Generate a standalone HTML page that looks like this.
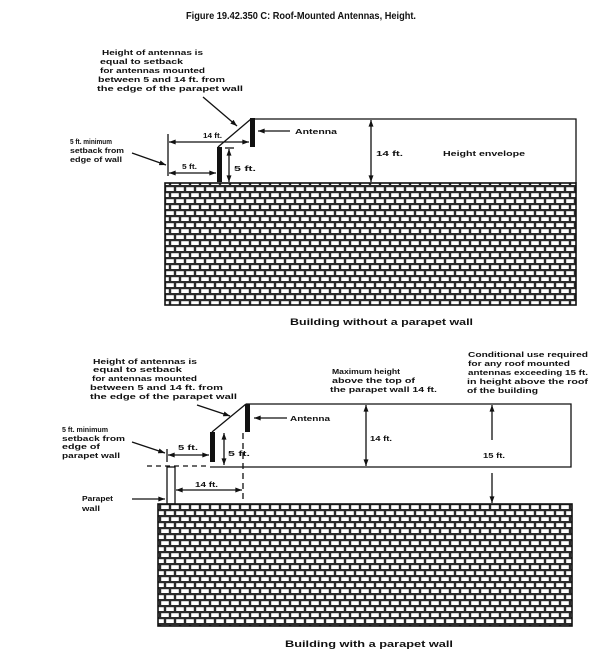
<!DOCTYPE html>
<html>
<head>
<meta charset="utf-8">
<style>
  html,body{margin:0;padding:0;background:#fff;}
  svg{display:block;}
  .t{font-family:"Liberation Sans",sans-serif;font-weight:bold;font-size:7.5px;fill:#111;}
  .c{font-family:"Liberation Sans",sans-serif;font-weight:bold;font-size:9.5px;fill:#111;}
  .ttl{font-family:"Liberation Sans",sans-serif;font-weight:bold;font-size:10.5px;fill:#111;}
  .ln{stroke:#111;stroke-width:1.3;fill:none;}
</style>
</head>
<body>
<svg width="600" height="672" viewBox="0 0 600 672" xmlns="http://www.w3.org/2000/svg">
  <defs>
    <pattern id="brick" patternUnits="userSpaceOnUse" width="10" height="12" x="0" y="0">
      <rect x="0" y="0" width="10" height="12" fill="#2a2a2a"/>
      <rect x="1.2" y="1.2" width="7.6" height="3.8" fill="#fff"/>
      <rect x="-3.8" y="7.2" width="7.6" height="3.8" fill="#fff"/>
      <rect x="6.2" y="7.2" width="7.6" height="3.8" fill="#fff"/>
    </pattern>
    <marker id="ar" viewBox="0 0 8 6" refX="8" refY="3" markerWidth="7" markerHeight="5" markerUnits="userSpaceOnUse" orient="auto-start-reverse">
      <path d="M0,0 L8,3 L0,6 z" fill="#111"/>
    </marker>
  </defs>

  <!-- Title -->
  <text class="ttl" x="301" y="19" text-anchor="middle" textLength="230" lengthAdjust="spacingAndGlyphs">Figure 19.42.350 C: Roof-Mounted Antennas, Height.</text>

  <!-- ============ TOP DIAGRAM ============ -->
  <text class="t" x="102" y="55" textLength="101" lengthAdjust="spacingAndGlyphs">Height of antennas is</text>
  <text class="t" x="100" y="64" textLength="83" lengthAdjust="spacingAndGlyphs">equal to setback</text>
  <text class="t" x="100" y="73" textLength="105" lengthAdjust="spacingAndGlyphs">for antennas mounted</text>
  <text class="t" x="98" y="82" textLength="127" lengthAdjust="spacingAndGlyphs">between 5 and 14 ft. from</text>
  <text class="t" x="97" y="91" textLength="146" lengthAdjust="spacingAndGlyphs">the edge of the parapet wall</text>

  <line class="ln" x1="203" y1="97" x2="237" y2="126" marker-end="url(#ar)"/>

  <!-- envelope -->
  <polyline class="ln" points="250,119 576,119 576,183"/>
  <line class="ln" x1="218" y1="147" x2="251" y2="119"/>
  <!-- antennas -->
  <rect x="250" y="118" width="5" height="29" fill="#111"/>
  <rect x="217" y="147" width="5" height="35" fill="#111"/>

  <!-- 14 ft dim -->
  <line class="ln" x1="168" y1="134" x2="168" y2="176"/>
  <line class="ln" x1="169" y1="142" x2="249" y2="142" marker-start="url(#ar)" marker-end="url(#ar)"/>
  <text class="t" x="203" y="138" textLength="19" lengthAdjust="spacingAndGlyphs">14 ft.</text>
  <!-- 5 ft dim -->
  <line class="ln" x1="169" y1="173" x2="216" y2="173" marker-start="url(#ar)" marker-end="url(#ar)"/>
  <text class="t" x="182" y="169" textLength="15" lengthAdjust="spacingAndGlyphs">5 ft.</text>
  <!-- 5 ft vertical -->
  <line class="ln" x1="225" y1="148" x2="234" y2="148"/>
  <line class="ln" x1="229" y1="149" x2="229" y2="182" marker-start="url(#ar)" marker-end="url(#ar)"/>
  <text class="t" x="234" y="171" textLength="22" lengthAdjust="spacingAndGlyphs">5 ft.</text>

  <!-- 5 ft minimum label -->
  <text class="t" x="70" y="144" textLength="42" lengthAdjust="spacingAndGlyphs">5 ft. minimum</text>
  <text class="t" x="70" y="153" textLength="54" lengthAdjust="spacingAndGlyphs">setback from</text>
  <text class="t" x="70" y="162" textLength="52" lengthAdjust="spacingAndGlyphs">edge of wall</text>
  <line class="ln" x1="132" y1="153" x2="166" y2="165" marker-end="url(#ar)"/>

  <!-- Antenna label -->
  <line class="ln" x1="290" y1="131" x2="258" y2="131" marker-end="url(#ar)"/>
  <text class="t" x="295" y="134" textLength="42" lengthAdjust="spacingAndGlyphs">Antenna</text>

  <!-- 14 ft envelope -->
  <line class="ln" x1="371" y1="120" x2="371" y2="182" marker-start="url(#ar)" marker-end="url(#ar)"/>
  <text class="t" x="376" y="156" textLength="27" lengthAdjust="spacingAndGlyphs">14 ft.</text>
  <text class="t" x="443" y="156" textLength="82" lengthAdjust="spacingAndGlyphs">Height envelope</text>

  <!-- building -->
  <rect x="165" y="183" width="411" height="122" fill="url(#brick)" stroke="#111" stroke-width="1.6"/>
  <text class="c" x="290" y="325" textLength="183" lengthAdjust="spacingAndGlyphs">Building without a parapet wall</text>

  <!-- ============ BOTTOM DIAGRAM ============ -->
  <text class="t" x="93" y="364" textLength="104" lengthAdjust="spacingAndGlyphs">Height of antennas is</text>
  <text class="t" x="93" y="372" textLength="89" lengthAdjust="spacingAndGlyphs">equal to setback</text>
  <text class="t" x="92" y="381" textLength="105" lengthAdjust="spacingAndGlyphs">for antennas mounted</text>
  <text class="t" x="90" y="390" textLength="133" lengthAdjust="spacingAndGlyphs">between 5 and 14 ft. from</text>
  <text class="t" x="90" y="399" textLength="147" lengthAdjust="spacingAndGlyphs">the edge of the parapet wall</text>
  <line class="ln" x1="197" y1="405" x2="230" y2="416" marker-end="url(#ar)"/>

  <!-- envelope -->
  <polyline class="ln" points="246,404 571,404 571,467 210,467"/>
  <line class="ln" x1="212" y1="432" x2="246" y2="404"/>
  <line class="ln" x1="147" y1="466" x2="210" y2="466" stroke-dasharray="5,4"/>
  <!-- antennas -->
  <rect x="245" y="404" width="5" height="28" fill="#111"/>
  <rect x="210" y="432" width="5" height="30" fill="#111"/>
  <!-- parapet -->
  <rect x="167" y="467" width="8" height="37" fill="#fff" stroke="#111" stroke-width="1.3"/>

  <!-- 5 ft horizontal -->
  <line class="ln" x1="167" y1="449" x2="167" y2="462"/>
  <line class="ln" x1="168" y1="455" x2="209" y2="455" marker-start="url(#ar)" marker-end="url(#ar)"/>
  <text class="t" x="178" y="450" textLength="20" lengthAdjust="spacingAndGlyphs">5 ft.</text>
  <!-- 5 ft vertical -->
  <line class="ln" x1="224" y1="433" x2="224" y2="465" marker-start="url(#ar)" marker-end="url(#ar)"/>
  <text class="t" x="228" y="456" textLength="22" lengthAdjust="spacingAndGlyphs">5 ft.</text>
  <!-- dashed vertical -->
  <line class="ln" x1="243" y1="433" x2="243" y2="502" stroke-dasharray="6,4"/>
  <!-- 14 ft horizontal -->
  <line class="ln" x1="176" y1="490" x2="242" y2="490" marker-start="url(#ar)" marker-end="url(#ar)"/>
  <text class="t" x="195" y="487" textLength="23" lengthAdjust="spacingAndGlyphs">14 ft.</text>

  <!-- 5 ft minimum label -->
  <text class="t" x="62" y="432" textLength="46" lengthAdjust="spacingAndGlyphs">5 ft. minimum</text>
  <text class="t" x="62" y="441" textLength="63" lengthAdjust="spacingAndGlyphs">setback from</text>
  <text class="t" x="62" y="449" textLength="38" lengthAdjust="spacingAndGlyphs">edge of</text>
  <text class="t" x="62" y="458" textLength="58" lengthAdjust="spacingAndGlyphs">parapet wall</text>
  <line class="ln" x1="132" y1="442" x2="165" y2="453" marker-end="url(#ar)"/>

  <!-- Parapet wall label -->
  <text class="t" x="82" y="501" textLength="31" lengthAdjust="spacingAndGlyphs">Parapet</text>
  <text class="t" x="82" y="511" textLength="18" lengthAdjust="spacingAndGlyphs">wall</text>
  <line class="ln" x1="132" y1="499" x2="165" y2="499" marker-end="url(#ar)"/>

  <!-- Antenna label -->
  <line class="ln" x1="287" y1="418" x2="254" y2="418" marker-end="url(#ar)"/>
  <text class="t" x="290" y="421" textLength="40" lengthAdjust="spacingAndGlyphs">Antenna</text>

  <!-- Max height label -->
  <text class="t" x="332" y="374" textLength="68" lengthAdjust="spacingAndGlyphs">Maximum height</text>
  <text class="t" x="332" y="383" textLength="83" lengthAdjust="spacingAndGlyphs">above the top of</text>
  <text class="t" x="330" y="392" textLength="107" lengthAdjust="spacingAndGlyphs">the parapet wall 14 ft.</text>

  <!-- Conditional use label -->
  <text class="t" x="468" y="357" textLength="120" lengthAdjust="spacingAndGlyphs">Conditional use required</text>
  <text class="t" x="468" y="366" textLength="102" lengthAdjust="spacingAndGlyphs">for any roof mounted</text>
  <text class="t" x="468" y="375" textLength="120" lengthAdjust="spacingAndGlyphs">antennas exceeding 15 ft.</text>
  <text class="t" x="467" y="384" textLength="121" lengthAdjust="spacingAndGlyphs">in height above the roof</text>
  <text class="t" x="467" y="393" textLength="71" lengthAdjust="spacingAndGlyphs">of the building</text>

  <!-- 14 ft arrow -->
  <line class="ln" x1="366" y1="405" x2="366" y2="466" marker-start="url(#ar)" marker-end="url(#ar)"/>
  <text class="t" x="370" y="441" textLength="22" lengthAdjust="spacingAndGlyphs">14 ft.</text>

  <!-- 15 ft arrow -->
  <line class="ln" x1="492" y1="440" x2="492" y2="405" marker-end="url(#ar)"/>
  <line class="ln" x1="492" y1="473" x2="492" y2="503" marker-end="url(#ar)"/>
  <text class="t" x="483" y="458" textLength="22" lengthAdjust="spacingAndGlyphs">15 ft.</text>

  <!-- building -->
  <rect x="158" y="504" width="414" height="122" fill="url(#brick)" stroke="#111" stroke-width="1.6"/>
  <text class="c" x="285" y="647" textLength="168" lengthAdjust="spacingAndGlyphs">Building with a parapet wall</text>
</svg>
</body>
</html>
